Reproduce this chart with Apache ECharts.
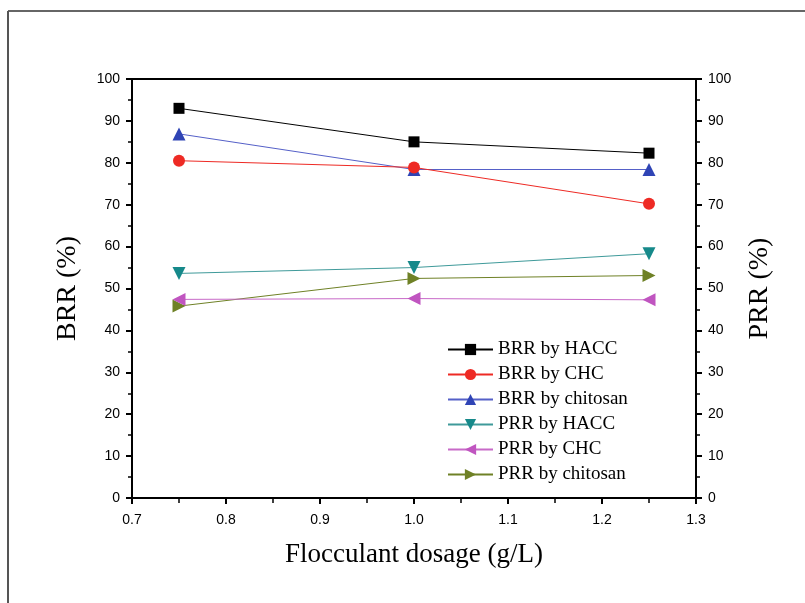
<!DOCTYPE html>
<html>
<head>
<meta charset="utf-8">
<script src="https://cdn.jsdelivr.net/npm/echarts@6/dist/echarts.min.js"></script>
<style>
  html, body { margin: 0; padding: 0; background: #fff; }
  #main { width: 805px; height: 603px; }
</style>
</head>
<body>
<div id="main"></div>
<script>
// dosage (g/L)
const dosage = [0.75, 1.0, 1.25];
// BRR series (left axis)
const brrHacc = [93.0, 85.0, 82.3];
const brrChc = [80.5, 78.9, 70.2];
const brrChitosan = [86.9, 78.4, 78.4];
// PRR series (right axis)
const prrHacc = [53.6, 55.0, 58.3];
const prrChc = [47.4, 47.6, 47.3];
const prrChitosan = [45.8, 52.4, 53.1];

const seriesNames = ['BRR by HACC', 'BRR by CHC', 'BRR by chitosan', 'PRR by HACC', 'PRR by CHC', 'PRR by chitosan'];
const seriesValues = [brrHacc, brrChc, brrChitosan, prrHacc, prrChc, prrChitosan];
const seriesColors = ['#000000', '#ee2a24', '#2f44b5', '#16898a', '#c055c0', '#6f8126'];
const lineColors = ['#000000', '#ee2a24', '#5560c8', '#3f9a9a', '#c86ac8', '#6f8126'];
const symbols = [
  'rect',
  'circle',
  'triangle',
  'path://M0,0 L10,0 L5,9 Z',
  'path://M9,0 L9,10 L0,5 Z',
  'path://M0,0 L0,10 L9,5 Z'
];
const symbolSizes = [11, 12, 13, 13, 13, 13];

const chart = echarts.init(document.getElementById('main'), null, { renderer: 'canvas' });

const tickFont = { fontFamily: 'Liberation Sans', fontSize: 14, color: '#000' };
const titleFont = { fontFamily: 'Liberation Serif', fontSize: 28, color: '#000' };

function yAxis(name, pos) {
  return {
    type: 'value', position: pos, min: 0, max: 100, interval: 10,
    name: name, nameLocation: 'middle', nameGap: 50,
    nameTextStyle: titleFont,
    axisLine: { show: true, lineStyle: { color: '#000', width: 2 } },
    axisTick: { show: true, length: 6, lineStyle: { color: '#000', width: 2 } },
    minorTick: { show: true, splitNumber: 2, length: 4, lineStyle: { color: '#000', width: 1.5 } },
    axisLabel: Object.assign({ margin: 12 }, tickFont),
    splitLine: { show: false }
  };
}

const series = seriesNames.map(function (n, i) {
  return {
    name: n, type: 'line',
    yAxisIndex: i < 3 ? 0 : 1,
    data: dosage.map(function (x, j) { return [x, seriesValues[i][j]]; }),
    symbol: symbols[i], symbolSize: symbolSizes[i],
    itemStyle: { color: seriesColors[i] },
    lineStyle: { color: lineColors[i], width: 1 },
    z: 10 - i
  };
});

chart.setOption({
  animation: false,
  backgroundColor: '#fff',
  grid: { left: 132, right: 109, top: 79, bottom: 105, show: true, borderColor: '#000', borderWidth: 2 },
  xAxis: {
    type: 'value', min: 0.7, max: 1.3, interval: 0.1,
    name: 'Flocculant dosage (g/L)', nameLocation: 'middle', nameGap: 43,
    nameTextStyle: Object.assign({}, titleFont, { fontSize: 27 }),
    axisLine: { show: true, onZero: false, lineStyle: { color: '#000', width: 2 } },
    axisTick: { show: true, length: 6, lineStyle: { color: '#000', width: 2 } },
    minorTick: { show: true, splitNumber: 2, length: 5, lineStyle: { color: '#000', width: 1.5 } },
    axisLabel: Object.assign({ margin: 15, formatter: function (v) { return v.toFixed(1); } }, tickFont),
    splitLine: { show: false }
  },
  yAxis: [yAxis('BRR (%)', 'left'), yAxis('PRR (%)', 'right')],
  legend: {
    data: seriesNames,
    orient: 'vertical', left: 442, top: 335,
    itemWidth: 45, itemHeight: 14, itemGap: 6,
    textStyle: { fontFamily: 'Liberation Serif', fontSize: 19, color: '#000' }
  },
  graphic: [
    { type: 'line', shape: { x1: 8, y1: 11, x2: 805, y2: 11 }, style: { stroke: '#666', lineWidth: 2 } },
    { type: 'line', shape: { x1: 8, y1: 11, x2: 8, y2: 603 }, style: { stroke: '#555', lineWidth: 2 } }
  ],
  series: series
});
</script>
</body>
</html>
